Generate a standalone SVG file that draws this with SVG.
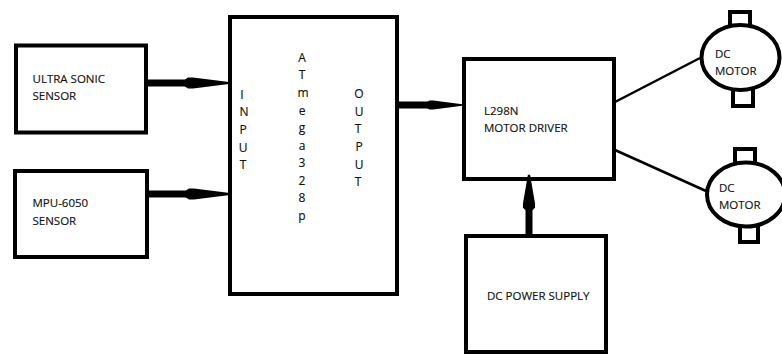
<svg xmlns="http://www.w3.org/2000/svg" width="782" height="354" viewBox="0 0 782 354">
<style>
.b{fill:#fff;stroke:#000;stroke-width:4}
.t{font-family:"Open Sans","Noto Sans",sans-serif;font-size:11.5px;fill:#111;stroke:#111;stroke-width:.15}
.c{font-size:12px;text-anchor:middle}
.th{fill:none;stroke:#000;stroke-width:7}
.w{fill:none;stroke:#000;stroke-width:2.5}
</style>
<defs>
<path id="ah" d="M0-3.500 L3-5.500 H8 L44-1 V1 L8 5.500 H3 L0 3.500Z" fill="#000"/>
</defs>
<rect width="782" height="354" fill="#fff"/>
<g id="ultrasonic"><rect class="b" x="16" y="45.500" width="130" height="87"/>
<text class="t" x="32.500" y="83">ULTRA SONIC</text><text class="t" x="32.500" y="100">SENSOR</text></g>
<g id="mpu6050"><rect class="b" x="15" y="171" width="132" height="86"/>
<text class="t" x="32.500" y="207">MPU-6050</text><text class="t" x="32.500" y="225">SENSOR</text></g>
<g id="atmega"><rect class="b" x="230" y="17" width="167" height="277"/>
<text class="t c"><tspan x="302" y="62">A</tspan><tspan x="302" y="79">T</tspan><tspan x="303" y="97">m</tspan><tspan x="302" y="115">e</tspan><tspan x="302" y="132">g</tspan><tspan x="302" y="150">a</tspan><tspan x="302" y="167">3</tspan><tspan x="302" y="185">2</tspan><tspan x="302" y="202">8</tspan><tspan x="302" y="220">p</tspan></text>
<text class="t c"><tspan x="242" y="99">I</tspan><tspan x="244" y="116">N</tspan><tspan x="243" y="134">P</tspan><tspan x="243" y="152">U</tspan><tspan x="243" y="169">T</tspan></text>
<text class="t c"><tspan x="359" y="98">O</tspan><tspan x="359" y="116">U</tspan><tspan x="358" y="133">T</tspan><tspan x="359" y="151">P</tspan><tspan x="359" y="169">U</tspan><tspan x="358" y="186">T</tspan></text></g>
<g id="driver"><rect class="b" x="464" y="59" width="150" height="120"/>
<text class="t" x="484" y="115">L298N</text><text class="t" x="484" y="132">MOTOR DRIVER</text></g>
<g id="power"><rect class="b" x="466" y="236" width="140" height="116"/>
<text class="t" x="487" y="300">DC POWER SUPPLY</text></g>
<g id="motor1"><rect class="b" x="730" y="12" width="20" height="16"/><rect class="b" x="733" y="88" width="20" height="18"/>
<ellipse class="b" cx="740.500" cy="57.500" rx="39" ry="32.500"/>
<text class="t" x="715" y="58">DC</text><text class="t" x="715" y="75">MOTOR</text></g>
<g id="motor2"><rect class="b" x="735" y="149" width="20" height="16"/><rect class="b" x="740" y="224" width="18" height="18"/>
<ellipse class="b" cx="746" cy="194.500" rx="39" ry="32"/>
<text class="t" x="719" y="192">DC</text><text class="t" x="719" y="209">MOTOR</text></g>
<g id="connectors">
<path class="th" d="M148 83H190"/><use href="#ah" transform="translate(185 83)"/>
<path class="th" d="M149 194H190"/><use href="#ah" transform="translate(186 194)"/>
<path class="th" d="M399 105H432"/><use href="#ah" transform="translate(427 105) scale(.8 .8)"/>
<path class="th" d="M529 234V200"/><use href="#ah" transform="translate(529 210) rotate(-90) scale(.8 1.1)"/>
<path class="w" d="M615 102L700 58"/>
<path class="w" d="M615 150L706 191"/>
</g>
</svg>
